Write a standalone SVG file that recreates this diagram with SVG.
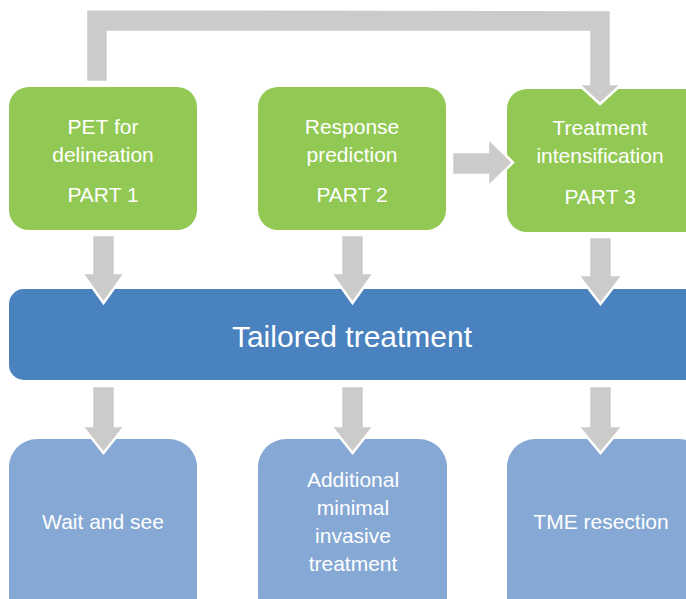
<svg xmlns="http://www.w3.org/2000/svg" width="686" height="599" viewBox="0 0 686 599">
<style>
.green{fill:#92C954;}
.bar{fill:#4A81BF;}
.light{fill:#86A8D4;}
.arrow{fill:#CBCBCA;stroke:#FFFFFF;stroke-width:2.5;stroke-linejoin:miter;}
.t{font-family:"Liberation Sans",Arial,sans-serif;font-size:21px;fill:#FFFFFF;text-anchor:middle;}
.big{font-family:"Liberation Sans",Arial,sans-serif;font-size:30px;fill:#FFFFFF;text-anchor:middle;}
</style>
<rect width="686" height="599" fill="#FFFFFF"/>
<g id="box-pet">
<rect class="green" x="9" y="87" width="188" height="143" rx="20"/>
<text class="t" x="103" y="134">PET for</text>
<text class="t" x="103" y="162">delineation</text>
<text class="t" x="103" y="202">PART 1</text>
</g>
<g id="box-response">
<rect class="green" x="258" y="87" width="188" height="143" rx="20"/>
<text class="t" x="352" y="134">Response</text>
<text class="t" x="352" y="162">prediction</text>
<text class="t" x="352" y="202">PART 2</text>
</g>
<g id="box-intensification">
<rect class="green" x="507" y="89" width="200" height="143" rx="20"/>
<text class="t" x="600" y="135">Treatment</text>
<text class="t" x="600" y="163">intensification</text>
<text class="t" x="600" y="204">PART 3</text>
</g>
<g id="bar-tailored">
<rect class="bar" x="9" y="289" width="700" height="91" rx="15"/>
<text class="big" x="352" y="347">Tailored treatment</text>
</g>
<g id="box-wait">
<rect class="light" x="9" y="439" width="188" height="185" rx="28"/>
<text class="t" x="103" y="529">Wait and see</text>
</g>
<g id="box-additional">
<rect class="light" x="258" y="439" width="189" height="185" rx="28"/>
<text class="t" x="353" y="487">Additional</text>
<text class="t" x="353" y="515">minimal</text>
<text class="t" x="353" y="543">invasive</text>
<text class="t" x="353" y="571">treatment</text>
</g>
<g id="box-tme">
<rect class="light" x="507" y="439" width="200" height="185" rx="28"/>
<text class="t" x="601" y="529">TME resection</text>
</g>
<g id="connectors">
<polygon class="arrow" points="86,82 86,9 611,10 611,84 622,84 600,104 578,84 589,84 589,32 108,32 108,82"/>
<polygon class="arrow" points="452,152 488,152 488,138 513,162.5 488,187 488,175 452,175"/>
<polygon class="arrow" points="92,235 115,235 115,273 125,273 103.5,303 82,273 92,273"/>
<polygon class="arrow" points="341,235 364,235 364,273 374,273 352.5,303 331,273 341,273"/>
<polygon class="arrow" points="589,237 612,237 612,275 623,275 600.5,304 578,275 589,275"/>
<polygon class="arrow" points="92,386 115,386 115,426 125,426 103.5,453 82,426 92,426"/>
<polygon class="arrow" points="341,386 364,386 364,426 374,426 352.5,453 331,426 341,426"/>
<polygon class="arrow" points="589,386 612,386 612,426 623,426 600.5,453 578,426 589,426"/>
</g>
</svg>
